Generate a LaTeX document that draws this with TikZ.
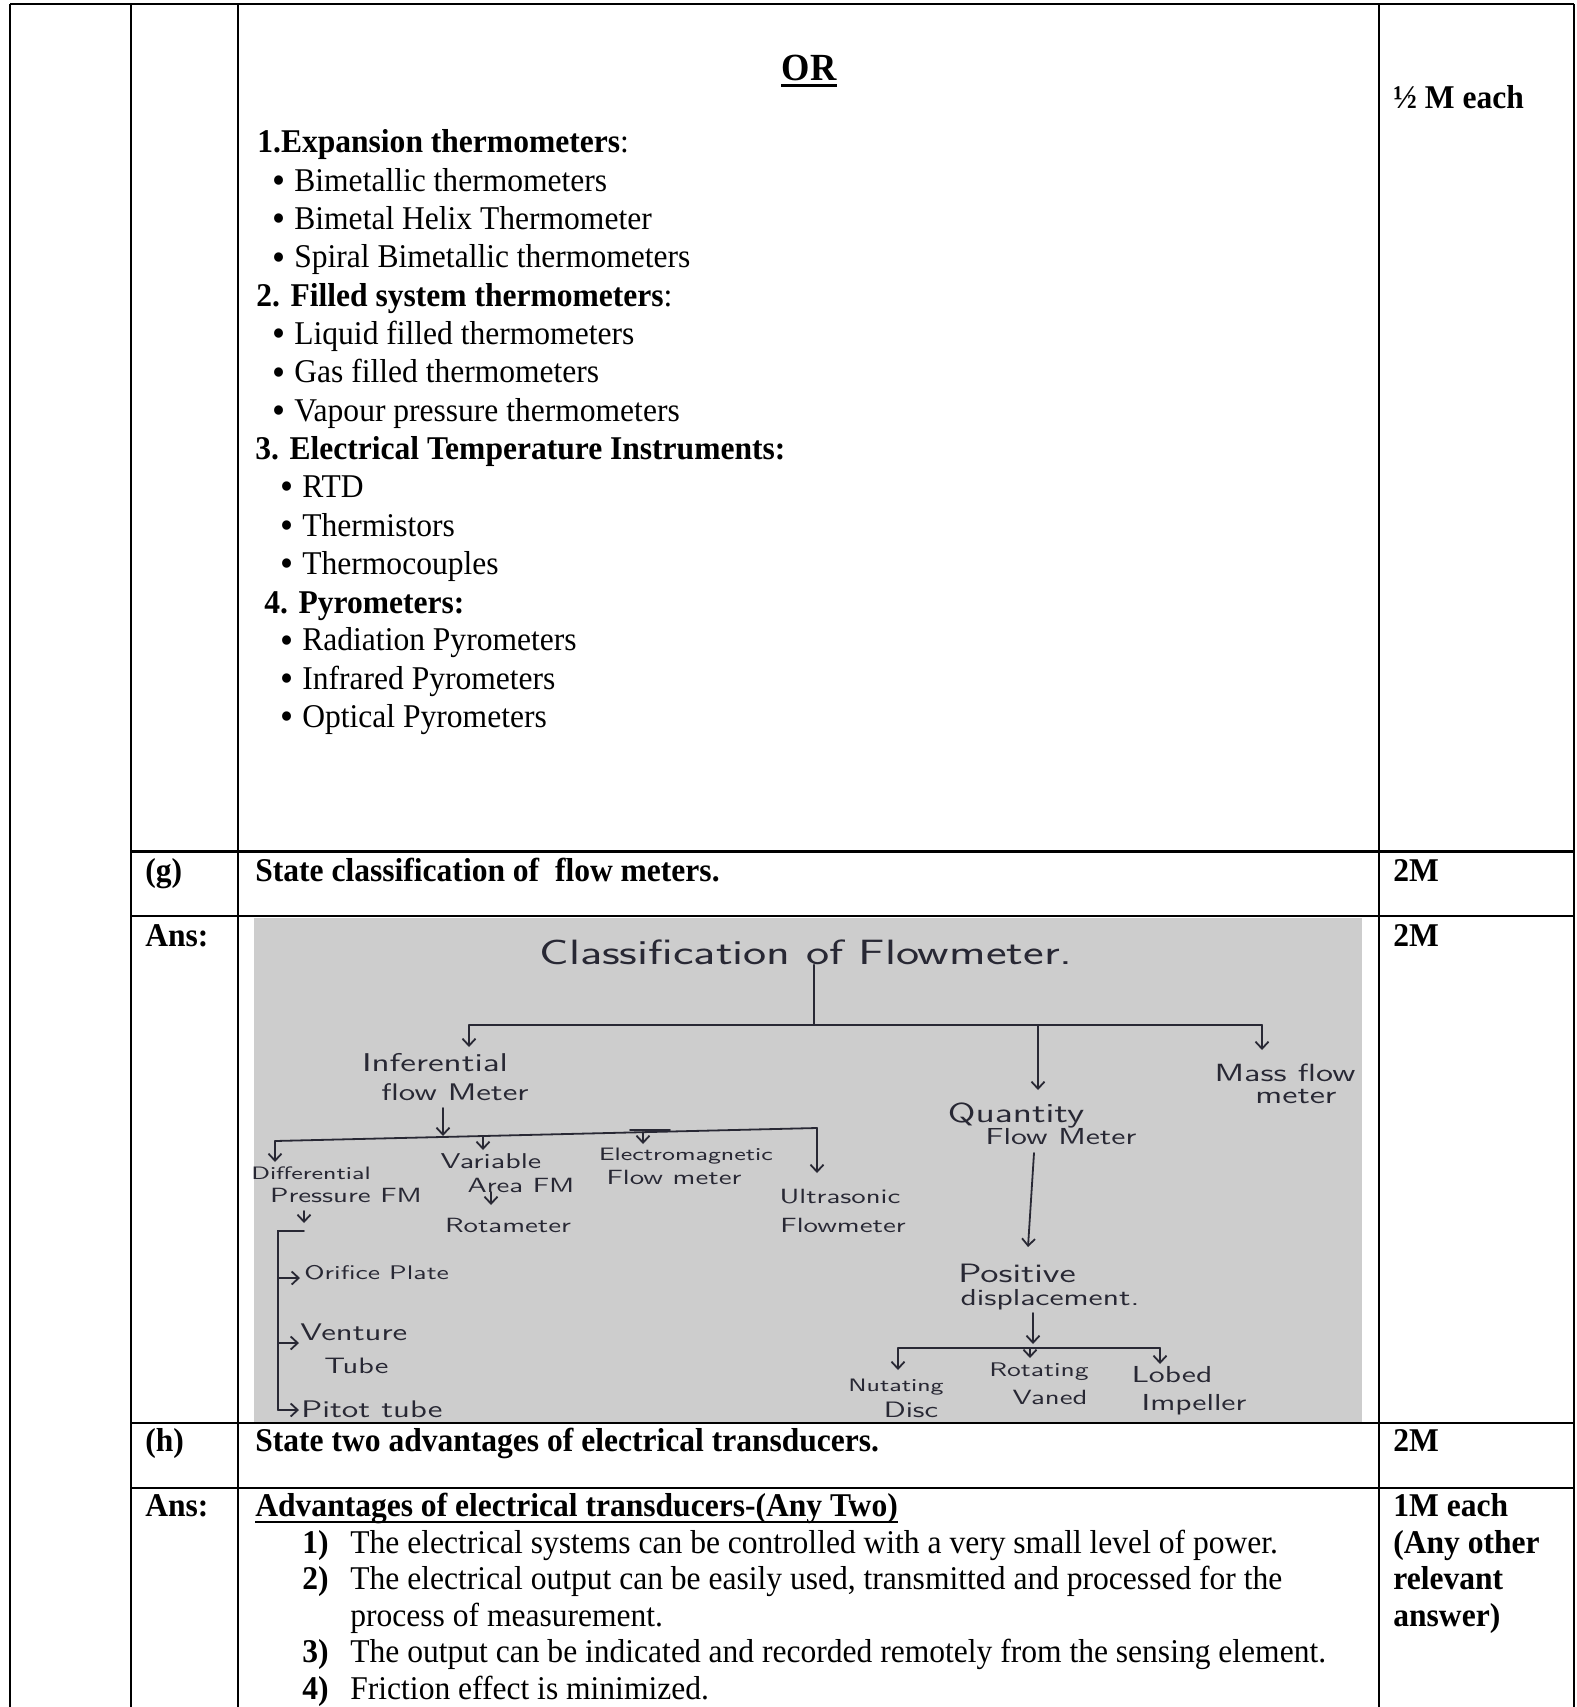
\documentclass[tikz,border=0pt]{standalone}
\usepackage{fontspec}
\setmainfont{Liberation Serif}[FakeStretch=0.95]
\usepackage{graphicx}
\usetikzlibrary{arrows.meta}
\definecolor{photo}{RGB}{205,205,205}
\definecolor{ink}{RGB}{40,40,52}
\newcommand\bodyfont{\fontsize{16.6}{19}\selectfont}
\newcommand\orfont{\fontsize{19.2}{22}\selectfont}
\newcommand\hw[2]{\scalebox{1.4}[1]{\fontsize{\dimexpr #1pt*6/7\relax}{#1pt}\selectfont\sffamily #2}}
\newcommand\bul{\raisebox{-1.1pt}{\scalebox{1.18}{\textbullet}}}
\tikzset{
  grid/.style={line width=1.4pt},
  t/.style={anchor=base west, inner sep=0pt, font=\bodyfont},
  tb/.style={t, font=\bodyfont\bfseries},
  hand/.style={inner sep=0pt, text=ink},
  handw/.style={hand, anchor=west},
  hl/.style={draw=ink, line width=0.9pt, line cap=round},
  harr/.style={hl, -{Straight Barb[length=3.5pt,width=6.5pt]}},
}
\begin{document}
\begin{tikzpicture}[x=0.5pt,y=-0.5pt]
\useasboundingbox (0,0) rectangle (1577,1707);
% photo background
\fill[photo] (254,917.5) rectangle (1362,1422.5);
% table grid
\draw[grid] (10,4) -- (1574,4);
\foreach \xx in {10,131,238,1379,1574} {\draw[grid] (\xx,4) -- (\xx,1707);}
\foreach \yy in {851.7,916,1423,1488} {\draw[grid] (131,\yy) -- (1574,\yy);}

% ---------- top block ----------
\node[tb, font=\orfont\bfseries, anchor=base] (or) at (809,81) {OR};
\draw[line width=1.3pt] ([yshift=-2.2pt]or.base west) -- ([yshift=-2.2pt]or.base east);
\node[tb] (halfm) at (1393,109) {½ M each};

\node[t] (h1) at (257,153) {\bfseries 1.Expansion thermometers\mdseries:};
\node[t] (b1) at (272,191.3) {\bul}; \node[t] (i1) at (294,191.3) {Bimetallic thermometers};
\node[t] (b2) at (272,229.6) {\bul}; \node[t] (i2) at (294,229.6) {Bimetal Helix Thermometer};
\node[t] (b3) at (272,267.9) {\bul}; \node[t] (i3) at (294,267.9) {Spiral Bimetallic thermometers};
\node[t] (h2) at (256,306.2) {\bfseries 2. Filled system thermometers\mdseries:};
\node[t] (b4) at (272,344.5) {\bul}; \node[t] (i4) at (294,344.5) {Liquid filled thermometers};
\node[t] (b5) at (272,382.8) {\bul}; \node[t] (i5) at (294,382.8) {Gas filled thermometers};
\node[t] (b6) at (272,421.1) {\bul}; \node[t] (i6) at (294,421.1) {Vapour pressure thermometers};
\node[tb] (h3) at (255,459.4) {3. Electrical Temperature Instruments:};
\node[t] (b7) at (280,497.7) {\bul}; \node[t] (i7) at (302,497.7) {RTD};
\node[t] (b8) at (280,536) {\bul}; \node[t] (i8) at (302,536) {Thermistors};
\node[t] (b9) at (280,574.3) {\bul}; \node[t] (i9) at (302,574.3) {Thermocouples};
\node[tb] (h4) at (264,613.5) {4. Pyrometers:};
\node[t] (b10) at (280,650.9) {\bul}; \node[t] (i10) at (302,650.9) {Radiation Pyrometers};
\node[t] (b11) at (280,689.2) {\bul}; \node[t] (i11) at (302,689.2) {Infrared Pyrometers};
\node[t] (b12) at (280,727.5) {\bul}; \node[t] (i12) at (302,727.5) {Optical Pyrometers};

% ---------- (g) row ----------
\node[tb] (gq) at (145,881.7) {(g)};
\node[tb] (gtext) at (255,881.7) {State classification of\ \ flow meters.};
\node[tb] (gm) at (1393,881.7) {2M};
\node[tb] (gans) at (145,946) {Ans:};
\node[tb] (gm2) at (1393,946) {2M};

% ---------- handwritten classification ----------
\node[hand] (title) at (806,952) {\hw{20.5}{Classification of Flowmeter.}};
\node[hand] (inf1) at (435,1063) {\hw{15}{Inferential}};
\node[hand] (inf2) at (455,1092) {\hw{14}{flow Meter}};
\node[hand] (qty1) at (1016,1115) {\hw{16}{Quantity}};
\node[hand] (qty2) at (1061,1137) {\hw{13.5}{Flow Meter}};
\node[hand] (mass1) at (1285,1073) {\hw{14.5}{Mass flow}};
\node[hand] (mass2) at (1296,1097) {\hw{14.5}{meter}};
\node[hand] (diff1) at (311,1173) {\hw{10.5}{Differential}};
\node[hand] (diff2) at (346,1195) {\hw{12}{Pressure FM}};
\node[hand] (var1) at (491,1161) {\hw{12.5}{Variable}};
\node[hand] (var2) at (521,1185) {\hw{12}{Area FM}};
\node[hand] (rota) at (508,1225) {\hw{12}{Rotameter}};
\node[hand] (elec1) at (686,1156) {\hw{10.5}{Electromagnetic}};
\node[hand] (elec2) at (674,1177) {\hw{12}{Flow meter}};
\node[hand] (ultra1) at (840,1197) {\hw{12}{Ultrasonic}};
\node[hand] (ultra2) at (843,1225) {\hw{12}{Flowmeter}};
\node[handw] (ori) at (304,1273) {\hw{11.5}{Orifice Plate}};
\node[handw] (vent1) at (300,1332) {\hw{14}{Venture}};
\node[handw] (vent2) at (324,1366) {\hw{13}{Tube}};
\node[handw] (pitot) at (301,1409) {\hw{14}{Pitot tube}};
\node[hand] (pos1) at (1017,1273) {\hw{15.5}{Positive}};
\node[hand] (pos2) at (1050,1300) {\hw{13.5}{displacement.}};
\node[hand] (nut1) at (896,1387) {\hw{10.5}{Nutating}};
\node[hand] (nut2) at (911,1410) {\hw{13}{Disc}};
\node[hand] (rot1) at (1039,1372) {\hw{11.5}{Rotating}};
\node[hand] (rot2) at (1050,1397) {\hw{12}{Vaned}};
\node[hand] (lob1) at (1172,1375) {\hw{13.5}{Lobed}};
\node[hand] (lob2) at (1194,1405) {\hw{13.5}{Impeller}};

% junctions and arrow ends
\coordinate (tJ) at (814,1025);
\coordinate (mL) at (469,1025);
\coordinate (mR) at (1262,1025);
\coordinate (mQ) at (1038,1025);
\coordinate (mLa) at (469,1047);
\coordinate (mQa) at (1038,1090);
\coordinate (mRa) at (1262,1050);
\coordinate (iS) at (443,1108);
\coordinate (iJ) at (443,1136);
\coordinate (iL) at (275,1141);
\coordinate (iR) at (817,1128);
\coordinate (iLa) at (275,1162);
\coordinate (iV) at (483,1136);
\coordinate (iVa) at (483,1150);
\coordinate (iE) at (643,1132);
\coordinate (iEa) at (643,1144);
\coordinate (iRa) at (817,1173);
\coordinate (aS) at (491,1192);
\coordinate (aA) at (491,1205);
\coordinate (dS) at (304,1211);
\coordinate (dA) at (304,1223);
\coordinate (bTR) at (304,1231);
\coordinate (bT) at (278,1231);
\coordinate (bB) at (278,1410);
\coordinate (bO) at (278,1278);
\coordinate (bOa) at (300,1278);
\coordinate (bV) at (278,1343);
\coordinate (bVa) at (299,1343);
\coordinate (bBa) at (299,1410);
\coordinate (qS) at (1034,1153);
\coordinate (qA) at (1028,1247);
\coordinate (pS) at (1033,1313);
\coordinate (pA) at (1033,1344);
\coordinate (pL) at (898,1348);
\coordinate (pR) at (1160,1348);
\coordinate (pM) at (1030,1348);
\coordinate (pLa) at (898,1370);
\coordinate (pMa) at (1030,1358);
\coordinate (pRa) at (1160,1364);
\coordinate (eL) at (630,1130);
\coordinate (eR) at (670,1130);

\draw[hl] (title.south -| tJ) -- (tJ);
\draw[hl] (mL) -- (mR);
\draw[harr] (mL) -- (mLa);
\draw[harr] (mQ) -- (mQa);
\draw[harr] (mR) -- (mRa);
\draw[harr] (iS) -- (iJ);
\draw[hl] (iL) -- (iR);
\draw[harr] (iL) -- (iLa);
\draw[harr] (iV) -- (iVa);
\draw[hl] (eL) -- (eR);
\draw[harr] (iE) -- (iEa);
\draw[harr] (iR) -- (iRa);
\draw[harr] (aS) -- (aA);
\draw[harr] (dS) -- (dA);
\draw[hl] (bTR) -- (bT) -- (bB);
\draw[harr] (bO) -- (bOa);
\draw[harr] (bV) -- (bVa);
\draw[harr] (bB) -- (bBa);
\draw[harr] (qS) -- (qA);
\draw[harr] (pS) -- (pA);
\draw[hl] (pL) -- (pR);
\draw[harr] (pL) -- (pLa);
\draw[harr] (pM) -- (pMa);
\draw[harr] (pR) -- (pRa);

% ---------- (h) row ----------
\node[tb] (hq) at (145,1451.7) {(h)};
\node[tb] (htext) at (255,1451.7) {State two advantages of electrical transducers.};
\node[tb] (hm) at (1393,1451.7) {2M};
\node[tb] (hans) at (145,1516.7) {Ans:};
\node[tb] (adv) at (255,1516.7) {Advantages of electrical transducers-(Any Two)};
\draw[line width=1.2pt] ([yshift=-2.6pt]adv.base west) -- ([yshift=-2.6pt]adv.base east);
\node[tb] (r1) at (1393,1516.7) {1M each};
\node[tb] (r2) at (1393,1553.2) {(Any other};
\node[tb] (r3) at (1393,1589.6) {relevant};
\node[tb] (r4) at (1393,1626.1) {answer)};
\node[tb] (n1) at (302,1553.2) {1)};
\node[t] (a1) at (350,1553.2) {The electrical systems can be controlled with a very small level of power.};
\node[tb] (n2) at (302,1589.6) {2)};
\node[t] (a2) at (350,1589.6) {The electrical output can be easily used, transmitted and processed for the};
\node[t] (a2b) at (350,1626.1) {process of measurement.};
\node[tb] (n3) at (302,1662.6) {3)};
\node[t] (a3) at (350,1662.6) {The output can be indicated and recorded remotely from the sensing element.};
\node[tb] (n4) at (302,1699) {4)};
\node[t] (a4) at (350,1699) {Friction effect is minimized.};
\end{tikzpicture}
\end{document}
